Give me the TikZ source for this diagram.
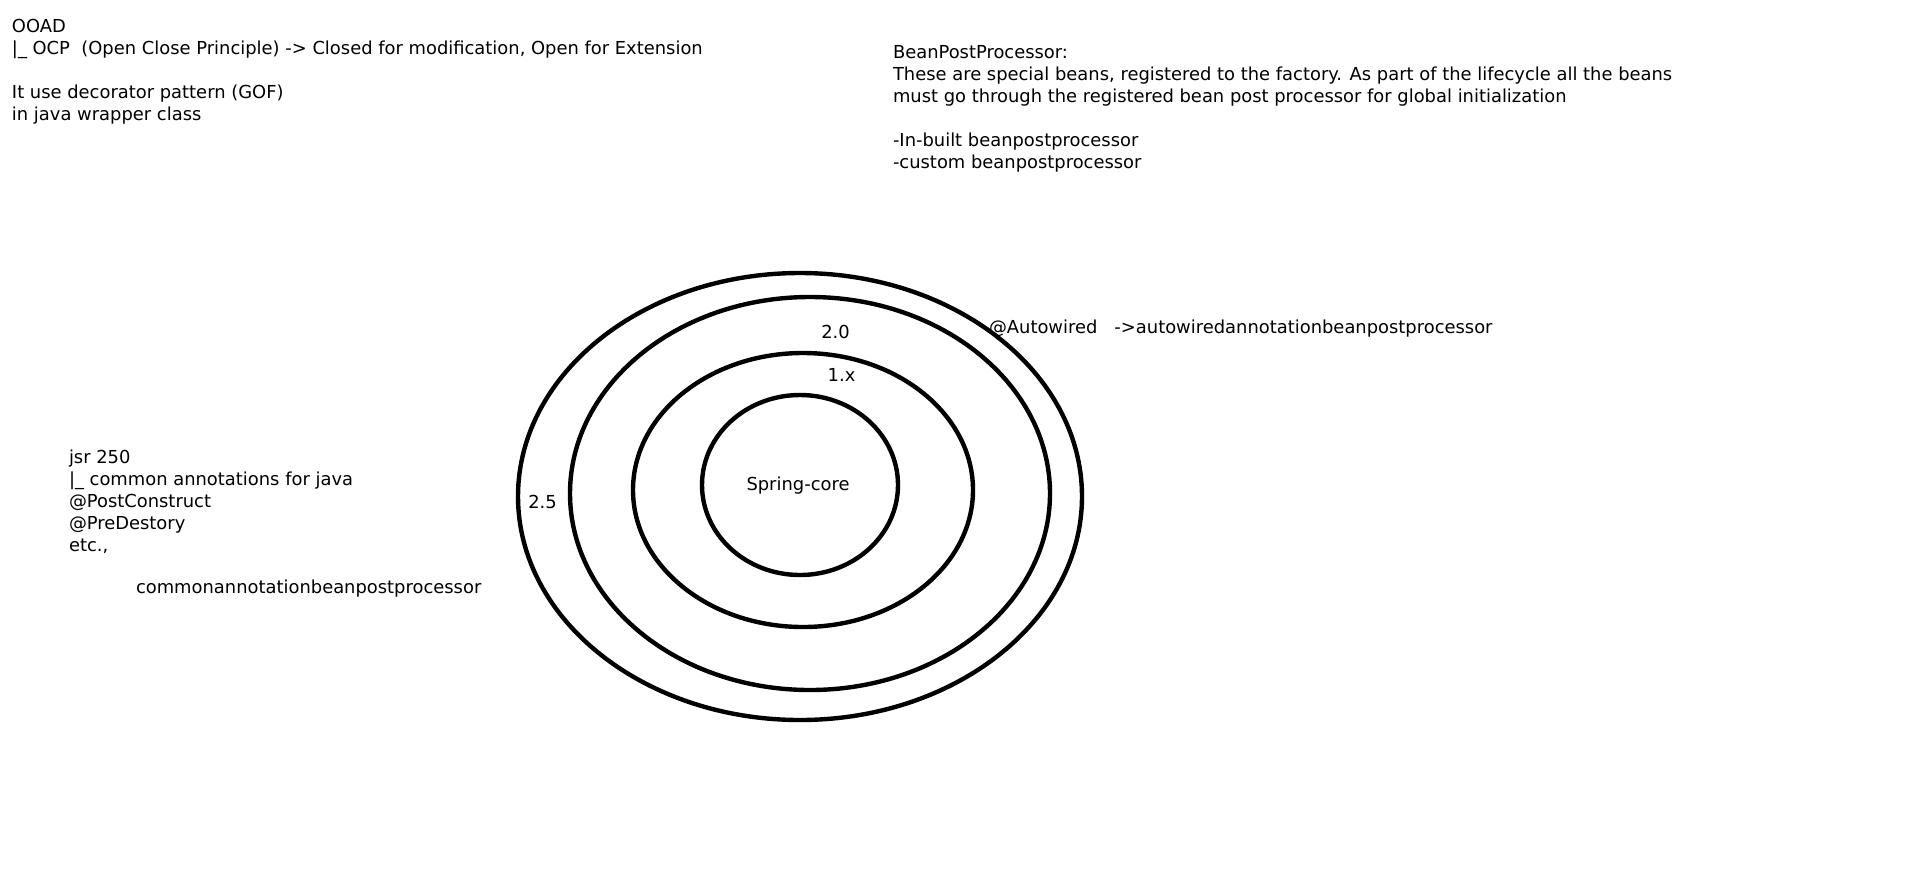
\documentclass[tikz,border=0pt]{standalone}
\usepackage{fontspec}
\setmainfont{DejaVu Sans}
\usetikzlibrary{shapes.geometric}
\tikzset{
  txt/.style={anchor=base west, inner sep=0pt, outer sep=0pt, font=\fontsize{17.9}{22}\selectfont},
  lbl/.style={anchor=base, inner sep=0pt, outer sep=0pt, font=\fontsize{17.9}{22}\selectfont},
  ring/.style={draw=black, ellipse, line width=4.4pt, inner sep=0pt, outer sep=0pt}
}
\begin{document}
\begin{tikzpicture}[x=1pt,y=-1pt]
\useasboundingbox[fill=white] (0,0) rectangle (1914,895);
% top-left notes
\node[txt] (ooad) at (12,32) {OOAD};
\node[txt] (ocp) at (12,54) {|\_ OCP\ \ (Open Close Principle) -> Closed for modification, Open for Extension};
\node[txt] (deco) at (12,98) {It use decorator pattern (GOF)};
\node[txt] (wrap) at (12,120) {in java wrapper class};
% top-right notes
\node[txt] (bpp) at (893,58) {BeanPostProcessor:};
\node[txt] (bpp1) at (893,80) {These are special beans, registered to the factory. As part of the lifecycle all the beans};
\node[txt] (bpp2) at (893,102) {must go through the registered bean post processor for global initialization};
\node[txt] (bpp3) at (893,146) {-In-built beanpostprocessor};
\node[txt] (bpp4) at (893,168) {-custom beanpostprocessor};
% left notes
\node[txt] (jsr) at (69,463) {jsr 250};
\node[txt] (jsr1) at (69,485) {|\_ common annotations for java};
\node[txt] (jsr2) at (69,507) {@PostConstruct};
\node[txt] (jsr3) at (69,529) {@PreDestory};
\node[txt] (jsr4) at (69,551) {etc.,};
\node[txt] (cabpp) at (136,593) {commonannotationbeanpostprocessor};
% rings
\node[ring, minimum width=564pt, minimum height=447pt] (r25) at (800,496.5) {};
\node[ring, minimum width=480pt, minimum height=393pt] (r20) at (810,493.5) {};
\node[ring, minimum width=340pt, minimum height=274pt] (r1x) at (803,490) {};
\node[ring, minimum width=196pt, minimum height=180pt] (core) at (800,485) {};
% ring labels
\node[lbl] (lcore) at (798,490) {Spring-core};
\node[lbl] (l20) at (835.5,338) {2.0};
\node[lbl] (l1x) at (841.5,381) {1.x};
\node[lbl] (l25) at (542.5,508) {2.5};
\node[txt] (aw) at (989,333) {@Autowired\ \ \ ->autowiredannotationbeanpostprocessor};
\end{tikzpicture}
\end{document}
